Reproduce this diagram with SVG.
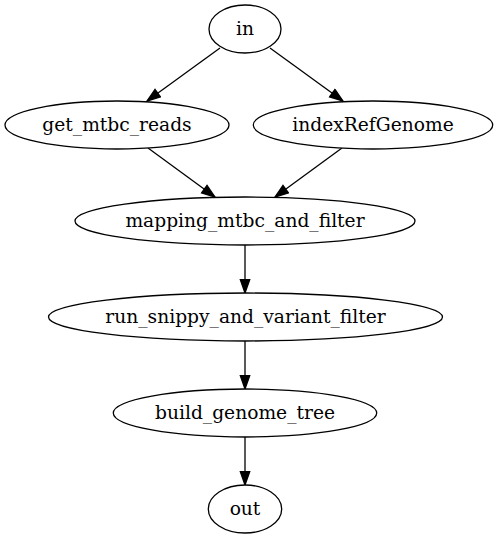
<svg xmlns="http://www.w3.org/2000/svg" width="498" height="539" viewBox="0 0 498 539">
<style>
.node ellipse{fill:#fff;stroke:#000;stroke-width:1.3}
.node text{font-family:"DejaVu Serif",serif;font-size:18.67px;text-anchor:middle;fill:#000}
.edges line{stroke:#000;stroke-width:1.3;marker-end:url(#arr)}
</style>
<defs>
<marker id="arr" markerUnits="userSpaceOnUse" markerWidth="16" markerHeight="12" refX="13.3" refY="4.67" orient="auto" viewBox="-1 -1 16 12">
<path d="M0,0 L13.3,4.67 L0,9.33 z" fill="#000" stroke="#000" stroke-width="1.3"/>
</marker>
</defs>
<rect width="498" height="539" fill="#fff"/>
<g class="edges" id="edges">
<line x1="220" y1="48" x2="147" y2="101"/>
<line x1="270" y1="48" x2="343" y2="101"/>
<line x1="148" y1="148" x2="215" y2="197"/>
<line x1="342" y1="148" x2="275" y2="197"/>
<line x1="245" y1="245" x2="245" y2="293"/>
<line x1="245" y1="341" x2="245" y2="389"/>
<line x1="245" y1="437" x2="245" y2="485"/>
</g>
<g class="node" id="in"><ellipse cx="245" cy="29" rx="36" ry="24"/><text x="245" y="35">in</text></g>
<g class="node" id="get_mtbc_reads"><ellipse cx="117" cy="125" rx="112" ry="24"/><text x="117" y="131">get_mtbc_reads</text></g>
<g class="node" id="indexRefGenome"><ellipse cx="373" cy="125" rx="119.7" ry="24"/><text x="373" y="131">indexRefGenome</text></g>
<g class="node" id="mapping_mtbc_and_filter"><ellipse cx="245" cy="221" rx="170" ry="24"/><text x="245" y="227">mapping_mtbc_and_filter</text></g>
<g class="node" id="run_snippy_and_variant_filter"><ellipse cx="245.5" cy="317" rx="197" ry="24"/><text x="245.5" y="323">run_snippy_and_variant_filter</text></g>
<g class="node" id="build_genome_tree"><ellipse cx="245" cy="413" rx="131.7" ry="24"/><text x="245" y="419">build_genome_tree</text></g>
<g class="node" id="out"><ellipse cx="245" cy="509" rx="36.7" ry="24"/><text x="245" y="515">out</text></g>
</svg>
